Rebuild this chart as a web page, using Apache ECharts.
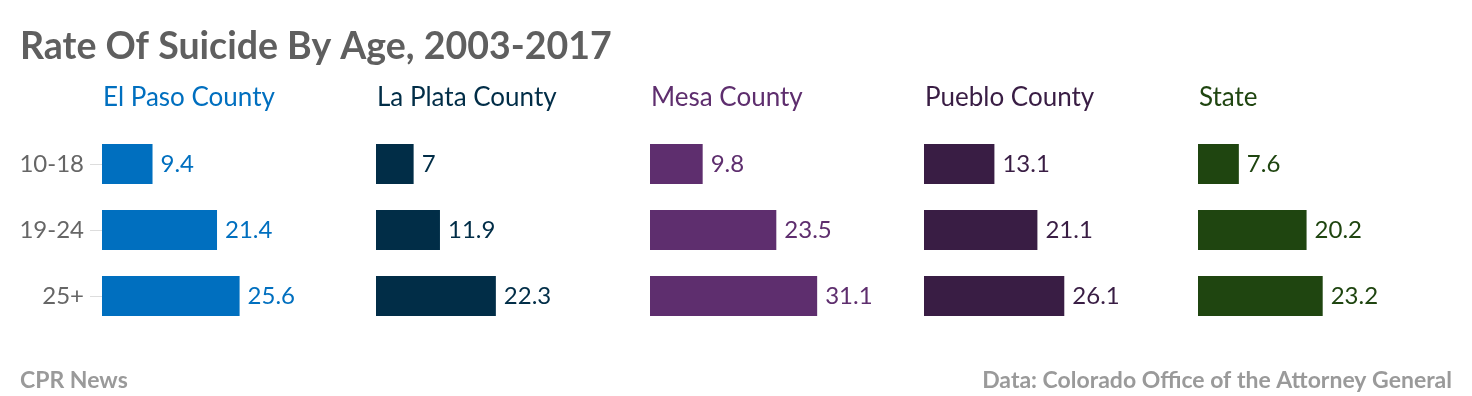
<!DOCTYPE html>
<html>
<head>
<meta charset="utf-8">
<script src="https://cdn.jsdelivr.net/npm/echarts@6/dist/echarts.min.js"></script>
<style>
  html, body { margin: 0; padding: 0; background: #fff; }
  #chart { width: 1472px; height: 396px; }
</style>
</head>
<body>
<div id="chart"></div>
<script>
  // data
  var ages = ['10-18', '19-24', '25+'];
  var regions = ['El Paso County', 'La Plata County', 'Mesa County', 'Pueblo County', 'State'];
  var elPaso = [9.4, 21.4, 25.6];
  var laPlata = [7, 11.9, 22.3];
  var mesa = [9.8, 23.5, 31.1];
  var pueblo = [13.1, 21.1, 26.1];
  var state = [7.6, 20.2, 23.2];
  var colors = ['#006fbf', '#012d47', '#5e2e6e', '#391d44', '#1f4510'];

  var values = [elPaso, laPlata, mesa, pueblo, state];
  var FONT = 'Lato';

  var chart = echarts.init(document.getElementById('chart'));

  var grids = [], xAxes = [], yAxes = [], series = [];
  var titles = [
    {
      text: 'Rate Of Suicide By Age, 2003-2017',
      left: 20, top: 28, padding: 0,
      textStyle: { fontFamily: FONT, fontSize: 37.5, fontWeight: 'bold', color: '#5f5f5f' }
    },
    {
      text: 'CPR News',
      left: 20, top: 369, padding: 0,
      textStyle: { fontFamily: FONT, fontSize: 23, fontWeight: 'bold', color: '#9a9a9a' }
    },
    {
      text: 'Data: Colorado Office of the Attorney General',
      right: 20, top: 369, padding: 0,
      textStyle: { fontFamily: FONT, fontSize: 23, fontWeight: 'bold', color: '#9a9a9a' }
    }
  ];

  for (var i = 0; i < regions.length; i++) {
    var left = 102 + 274 * i;
    grids.push({ left: left, top: 131, width: 215, height: 198 });
    xAxes.push({ gridIndex: i, type: 'value', min: 0, max: 40, show: false });
    yAxes.push({
      gridIndex: i,
      type: 'category',
      inverse: true,
      data: ages,
      axisLine: { show: false },
      axisTick: { show: i === 0, length: 12, lineStyle: { color: '#dddddd' }, alignWithLabel: true },
      axisLabel: { show: i === 0, margin: 18, fontFamily: FONT, fontSize: 24, color: '#666666' }
    });
    series.push({
      type: 'bar',
      xAxisIndex: i,
      yAxisIndex: i,
      data: values[i],
      barWidth: 40,
      itemStyle: { color: colors[i] },
      label: {
        show: true, position: 'right', distance: 8,
        fontFamily: FONT, fontSize: 24, color: colors[i]
      },
      silent: true
    });
    titles.push({
      text: regions[i],
      left: left + 1, top: 85, padding: 0,
      textStyle: { fontFamily: FONT, fontSize: 26, fontWeight: 'normal', color: colors[i] }
    });
  }

  chart.setOption({
    animation: false,
    title: titles,
    grid: grids,
    xAxis: xAxes,
    yAxis: yAxes,
    series: series
  });
</script>
</body>
</html>
